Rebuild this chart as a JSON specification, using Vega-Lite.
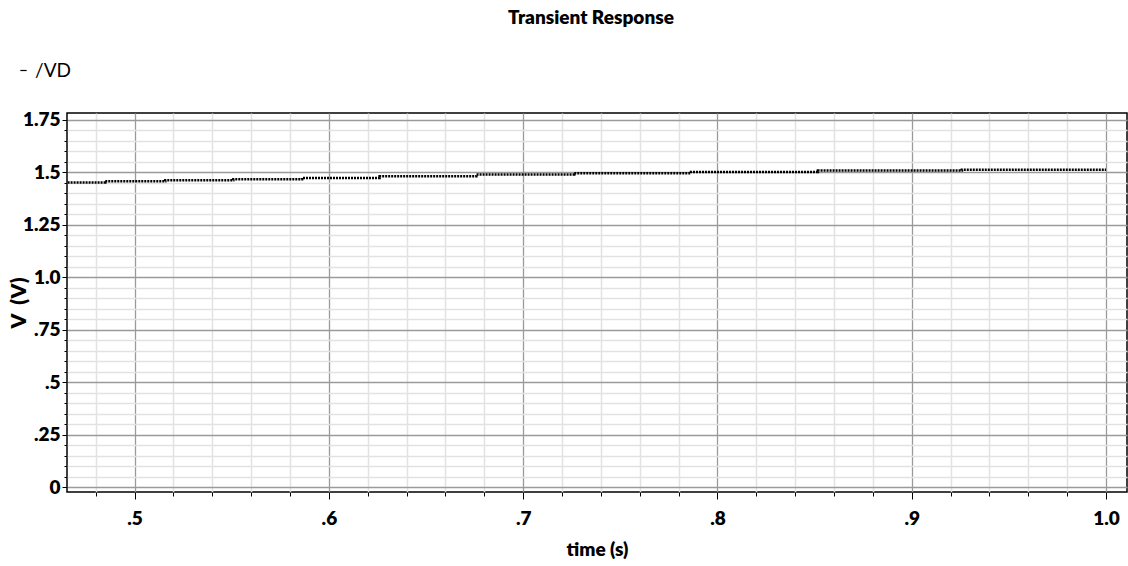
{
  "$schema": "https://vega.github.io/schema/vega-lite/v6.json",
  "autosize": {"type": "none"},
  "padding": {"left": 67, "top": 113, "right": 1, "bottom": 74},
  "width": 1060,
  "height": 379,
  "background": "white",
  "title": {
    "text": "Transient Response",
    "anchor": "middle",
    "frame": "group",
    "baseline": "alphabetic",
    "offset": 18,
    "dx": -6,
    "font": "Lato",
    "fontSize": 19,
    "fontWeight": 800,
    "color": "#000"
  },
  "config": {
    "view": {"stroke": "#000", "strokeWidth": 1.5},
    "axis": {
      "labelFont": "Lato",
      "titleFont": "Lato",
      "labelColor": "#000",
      "titleColor": "#000",
      "tickColor": "#000",
      "domainColor": "#000"
    }
  },
  "data": {
    "values": [
      {"t": 0.4655, "v": 1.4495, "signal": "/VD"},
      {"t": 0.4849, "v": 1.4557, "signal": "/VD"},
      {"t": 0.5158, "v": 1.4605, "signal": "/VD"},
      {"t": 0.5508, "v": 1.4652, "signal": "/VD"},
      {"t": 0.5862, "v": 1.4714, "signal": "/VD"},
      {"t": 0.6261, "v": 1.4800, "signal": "/VD"},
      {"t": 0.6759, "v": 1.4876, "signal": "/VD"},
      {"t": 0.7263, "v": 1.4938, "signal": "/VD"},
      {"t": 0.7864, "v": 1.5000, "signal": "/VD"},
      {"t": 0.8517, "v": 1.5067, "signal": "/VD"},
      {"t": 0.9258, "v": 1.5105, "signal": "/VD"},
      {"t": 1.0000, "v": 1.5105, "signal": "/VD"}
    ]
  },
  "layer": [
    {
      "mark": {"type": "line", "opacity": 0, "interpolate": "step-after"},
      "encoding": {
        "x": {
          "field": "t", "type": "quantitative",
          "scale": {"domain": [0.4652, 1.0108], "nice": false, "zero": false},
          "axis": {
            "orient": "bottom",
            "values": [0.48, 0.52, 0.54, 0.56, 0.58, 0.62, 0.64, 0.66, 0.68, 0.72, 0.74, 0.76, 0.78, 0.82, 0.84, 0.86, 0.88, 0.92, 0.94, 0.96, 0.98],
            "labels": false, "domain": false, "title": null,
            "tickSize": 4, "tickWidth": 1,
            "grid": true, "gridColor": "#e2e2e2", "gridWidth": 1.5
          }
        },
        "y": {
          "field": "v", "type": "quantitative",
          "scale": {"domain": [-0.0238, 1.781], "nice": false, "zero": false},
          "axis": {
            "orient": "left",
            "values": [0.05, 0.1, 0.15, 0.2, 0.3, 0.35, 0.4, 0.45, 0.55, 0.6, 0.65, 0.7, 0.8, 0.85, 0.9, 0.95, 1.05, 1.1, 1.15, 1.2, 1.3, 1.35, 1.4, 1.45, 1.55, 1.6, 1.65, 1.7],
            "labels": false, "domain": false, "title": null,
            "tickSize": 3, "tickWidth": 1,
            "grid": true, "gridColor": "#e2e2e2", "gridWidth": 1.5
          }
        }
      }
    },
    {
      "mark": {"type": "line", "interpolate": "step-after", "strokeWidth": 2.5, "strokeDash": [2, 1]},
      "encoding": {
        "x": {
          "field": "t", "type": "quantitative",
          "axis": {
            "orient": "bottom",
            "values": [0.5, 0.6, 0.7, 0.8, 0.9, 1.0],
            "labelExpr": "datum.value >= 1 ? '1.0' : slice(format(datum.value, '.1f'), 1)",
            "labelFontSize": 19, "labelFontWeight": 800, "labelPadding": 10,
            "tickSize": 7, "tickWidth": 1,
            "grid": true, "gridColor": "#9a9a9a", "gridWidth": 1.3,
            "domain": false,
            "title": "time (s)", "titleFontSize": 19, "titleFontWeight": 800,
            "titleBaseline": "alphabetic", "titleY": 63
          }
        },
        "y": {
          "field": "v", "type": "quantitative",
          "axis": {
            "orient": "left",
            "values": [0, 0.25, 0.5, 0.75, 1.0, 1.25, 1.5, 1.75],
            "labelExpr": "datum.value == 0 ? '0' : datum.value == 1 ? '1.0' : datum.value < 1 ? slice(format(datum.value, '.2~f'), 1) : format(datum.value, '.2~f')",
            "labelFontSize": 19, "labelFontWeight": 800, "labelPadding": 2,
            "tickSize": 5, "tickWidth": 1,
            "grid": true, "gridColor": "#9a9a9a", "gridWidth": 1.3,
            "domain": false,
            "title": "V\u00a0\u00a0(V)", "titleFontSize": 21, "titleFontWeight": 800,
            "titleAngle": -90, "titleBaseline": "middle", "titleX": -48
          }
        },
        "color": {
          "field": "signal", "type": "nominal",
          "scale": {"range": ["#000000"]},
          "legend": {
            "title": null,
            "orient": "none",
            "legendX": -53,
            "legendY": -52,
            "symbolType": "stroke",
            "symbolSize": 40,
            "symbolStrokeWidth": 1.2,
            "symbolStrokeColor": "#555555",
            "symbolDash": [],
            "labelFont": "Lato",
            "labelFontSize": 19,
            "labelColor": "#000",
            "labelOffset": 2,
            "padding": 0
          }
        }
      }
    }
  ],
  "resolve": {"axis": {"x": "independent", "y": "independent"}}
}
